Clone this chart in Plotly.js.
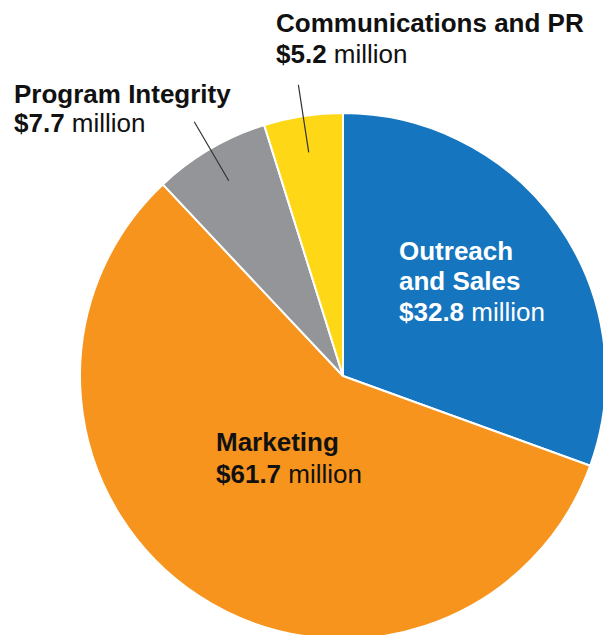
<!DOCTYPE html>
<html><head><meta charset="utf-8">
<script src="https://cdn.plot.ly/plotly-3.0.1.min.js"></script>
<style>
html,body{margin:0;padding:0;overflow:hidden;background:#fff;width:603px;height:635px}
#chart{width:700px;height:700px;position:absolute;left:0;top:0}
</style>
</head><body><div id="chart"></div>
<script>
// ---- data ----
const categories = ["Outreach and Sales", "Marketing", "Program Integrity", "Communications and PR"];
const labelLines = [["Outreach", "and Sales"], ["Marketing"], ["Program Integrity"], ["Communications and PR"]];
const valuesMillions = [32.8, 61.7, 7.7, 5.2];
const valueUnit = "million";

// ---- style / layout ----
const sliceColors = ["#1575BE", "#F6941E", "#949598", "#FED816"];
const textColors = ["#ffffff", "#111111", "#111111", "#111111"];
const W = 700, H = 700;           // plot canvas (larger than window, pie is cropped)
const cx = 343, cy = 376, R = 263; // pie centre and radius in px
const FS = 26;
const labelPos = [
  {left: 398, base: 260, gap: 30.5},
  {left: 215, base: 451, gap: 32},
  {left: 13,  base: 103, gap: 29.5},
  {left: 275, base: 32,  gap: 31}
];
const leaderSlices = [2, 3];
const leaderInner = 0.86, leaderOuter = 1.12;

const px = x => x / W;
const py = y => 1 - y / H;

const total = valuesMillions.reduce((a, b) => a + b, 0);
const shapes = [];
let cum = 0;
const mids = valuesMillions.map(v => { const m = (cum + v / 2) / total * 2 * Math.PI; cum += v; return m; });
leaderSlices.forEach(i => {
  const t = mids[i];
  const x0 = cx + leaderInner * R * Math.sin(t), y0 = cy - leaderInner * R * Math.cos(t);
  const x1 = cx + leaderOuter * R * Math.sin(t), y1 = cy - leaderOuter * R * Math.cos(t);
  shapes.push({type: "line", xref: "paper", yref: "paper", x0: px(x0), y0: py(y0), x1: px(x1), y1: py(y1),
    line: {color: "#333333", width: 1.2}});
});

const annotations = [];
categories.forEach((c, i) => {
  const lines = labelLines[i].map(s => "<b>" + s + "</b>");
  lines.push("<b>$" + valuesMillions[i].toFixed(1) + "</b> " + valueUnit);
  const p = labelPos[i];
  lines.forEach((t, k) => {
    const base = p.base + k * p.gap;
    annotations.push({
      xref: "paper", yref: "paper", x: px(p.left), y: py(base - FS * 0.3465),
      xanchor: "left", yanchor: "middle", showarrow: false, text: t, borderpad: 0,
      font: {family: "Liberation Sans, Arial, sans-serif", size: FS, color: textColors[i]}
    });
  });
});

const trace = {
  type: "pie",
  labels: categories,
  values: valuesMillions,
  sort: false,
  direction: "clockwise",
  rotation: 0,
  textinfo: "none",
  hoverinfo: "label+value",
  marker: {colors: sliceColors, line: {color: "#ffffff", width: 2}},
  domain: {x: [px(cx - R), px(cx + R)], y: [py(cy + R), py(cy - R)]},
  showlegend: false
};

Plotly.newPlot("chart", [trace], {
  width: W, height: H,
  margin: {l: 0, r: 0, t: 0, b: 0},
  paper_bgcolor: "#ffffff",
  showlegend: false,
  shapes: shapes,
  annotations: annotations
}, {displayModeBar: false, staticPlot: true});
</script>
</body></html>
